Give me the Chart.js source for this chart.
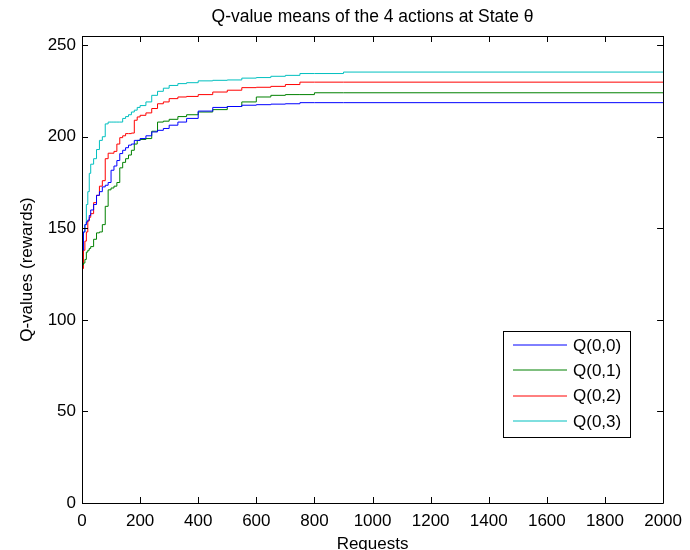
<!DOCTYPE html>
<html>
<head>
<meta charset="utf-8">
<script src="https://cdn.jsdelivr.net/npm/chart.js@4"></script>
<style>
	html, body { margin: 0; padding: 0; background: #fff; }
	#wrap { width: 690px; height: 550px; }
</style>
</head>
<body>
<div id="wrap"><canvas id="chart-qvalues"></canvas></div>
<script>
// Data (request number -> Q-value mean)
const requests = [0, 5, 10, 15, 20, 25, 30, 40, 50, 60, 70, 80, 90, 100, 110, 120, 130, 140, 150, 160, 170, 180, 190, 200, 220, 240, 260, 280, 300, 330, 360, 400, 450, 500, 550, 600, 650, 700, 750, 800, 900, 2000];
const q00 = [138, 148, 152, 153.5, 154.5, 157, 160, 163, 168, 170, 172.6, 173.5, 175, 181.7, 184, 187, 190.8, 192.6, 194, 195.4, 196, 198, 198, 199, 200.5, 202.6, 203.5, 204.5, 206.3, 208, 210, 214, 216, 216.5, 217.2, 217.5, 217.8, 218, 218.6, 218.6, 218.6, 218.6];
const q01 = [130, 131, 133, 137, 138, 139, 140, 144, 147.5, 148, 152, 162, 171, 172, 173, 175, 183, 186, 188, 190, 192.6, 196, 198, 198.5, 199, 203, 208, 208.5, 209.5, 211, 212, 213.5, 214.8, 216.5, 219, 221.7, 222.6, 223, 223, 224, 224, 224];
const q02 = [128, 138, 143, 148, 154, 156, 158, 164, 168, 173, 176, 188, 191, 191, 192, 196, 199.5, 200.5, 201.7, 201.7, 202, 209, 210.8, 211.7, 213, 215.4, 218, 219, 220.8, 221.7, 222, 223, 224.4, 225.4, 226.8, 227, 227.5, 228.5, 229.8, 229.8, 229.8, 229.8];
const q03 = [130, 148, 152, 163, 170, 180, 185, 188, 193, 198, 200, 207, 208, 208, 208, 208, 208, 210, 211, 212, 213.5, 214.5, 216, 217, 219, 222.6, 224.8, 226.5, 228, 229, 229.5, 230.5, 230.8, 231, 232, 232.3, 233, 233.5, 234.5, 234.5, 235.3, 235.3];

const seriesNames = ["Q(0,0)", "Q(0,1)", "Q(0,2)", "Q(0,3)"];
const seriesColors = ["#0000ff", "#008000", "#ff0000", "#00bfbf"];
const seriesValues = [q00, q01, q02, q03];
const chartTitle = "Q-value means of the 4 actions at State θ";

const FONT = "'Liberation Sans', Arial, Helvetica, sans-serif";

const toPoints = (vals) => requests.map((r, i) => ({ x: r, y: vals[i] }));

// Matlab style box with inward ticks on all sides, title centred on the axes
const boxPlugin = {
	id: "boxTicks",
	afterDatasetsDraw(chart) {
		const { ctx, chartArea: a, scales } = chart;
		const len = 6;
		ctx.save();
		ctx.strokeStyle = "#000";
		ctx.lineWidth = 1;
		ctx.beginPath();
		ctx.rect(Math.round(a.left) + 0.5, Math.round(a.top) + 0.5, Math.round(a.right - a.left), Math.round(a.bottom - a.top));
		scales.x.ticks.forEach((t) => {
			const px = Math.round(scales.x.getPixelForValue(t.value)) + 0.5;
			ctx.moveTo(px, a.bottom);
			ctx.lineTo(px, a.bottom - len);
			ctx.moveTo(px, a.top);
			ctx.lineTo(px, a.top + len);
		});
		scales.y.ticks.forEach((t) => {
			const py = Math.round(scales.y.getPixelForValue(t.value)) + 0.5;
			ctx.moveTo(a.left, py);
			ctx.lineTo(a.left + len, py);
			ctx.moveTo(a.right, py);
			ctx.lineTo(a.right - len, py);
		});
		ctx.stroke();

		ctx.fillStyle = "#000";
		ctx.font = "17.5px " + FONT;
		ctx.textAlign = "center";
		ctx.textBaseline = "middle";
		ctx.fillText(chartTitle, (a.left + a.right) / 2, 17);
		ctx.restore();
	},
};

// Legend box inside the axes, lower right
const legendPlugin = {
	id: "boxLegend",
	afterDraw(chart) {
		const { ctx } = chart;
		const bx = 503, by = 331, bw = 127, bh = 106;
		ctx.save();
		ctx.fillStyle = "#fff";
		ctx.fillRect(bx, by, bw, bh);
		ctx.strokeStyle = "#000";
		ctx.lineWidth = 1;
		ctx.strokeRect(bx + 0.5, by + 0.5, bw, bh);
		ctx.font = "17px " + FONT;
		ctx.textBaseline = "middle";
		seriesNames.forEach((name, i) => {
			const y = by + 14 + i * 25.4;
			ctx.strokeStyle = seriesColors[i];
			ctx.beginPath();
			ctx.moveTo(513, Math.round(y));
			ctx.lineTo(567, Math.round(y));
			ctx.stroke();
			ctx.fillStyle = "#000";
			ctx.fillText(name, 573, y + 1);
		});
		ctx.restore();
	},
};

const CHART_DATA = {
	datasets: seriesValues.map((vals, i) => ({
		label: seriesNames[i],
		data: toPoints(vals),
		borderColor: seriesColors[i],
		backgroundColor: seriesColors[i],
		borderWidth: 1,
		pointRadius: 0,
		stepped: true,
		fill: false,
	})),
};

const CHART_CONFIG = {
	type: "line",
	data: CHART_DATA,
	options: {
		responsive: true,
		maintainAspectRatio: false,
		animation: false,
		layout: {
			padding: { left: 0, right: 22, top: 36, bottom: 0 },
		},
		plugins: {
			legend: { display: false },
			tooltip: { enabled: false },
			title: { display: false },
		},
		scales: {
			x: {
				type: "linear",
				min: 0,
				max: 2000,
				border: { display: false },
				grid: { display: false, drawTicks: false },
				ticks: {
					stepSize: 200,
					autoSkip: false,
					maxRotation: 0,
					padding: 8,
					color: "#000",
					font: { family: FONT, size: 17 },
					callback: (value) => String(value),
				},
				title: {
					display: true,
					text: "Requests",
					color: "#000",
					font: { family: FONT, size: 17 },
					padding: { top: 0, bottom: -5 },
				},
				afterFit: (scale) => { scale.height = 47; },
			},
			y: {
				type: "linear",
				min: 0,
				max: 255,
				border: { display: false },
				grid: { display: false, drawTicks: false },
				ticks: {
					stepSize: 50,
					includeBounds: false,
					padding: 6,
					color: "#000",
					font: { family: FONT, size: 17 },
					callback: (value) => String(value),
				},
				title: {
					display: true,
					text: "Q-values (rewards)",
					color: "#000",
					font: { family: FONT, size: 17 },
					padding: { top: 17, bottom: 0 },
				},
				afterFit: (scale) => { scale.width = 82; },
			},
		},
	},
	plugins: [boxPlugin, legendPlugin],
};

new Chart(document.getElementById("chart-qvalues"), CHART_CONFIG);
</script>
</body>
</html>
